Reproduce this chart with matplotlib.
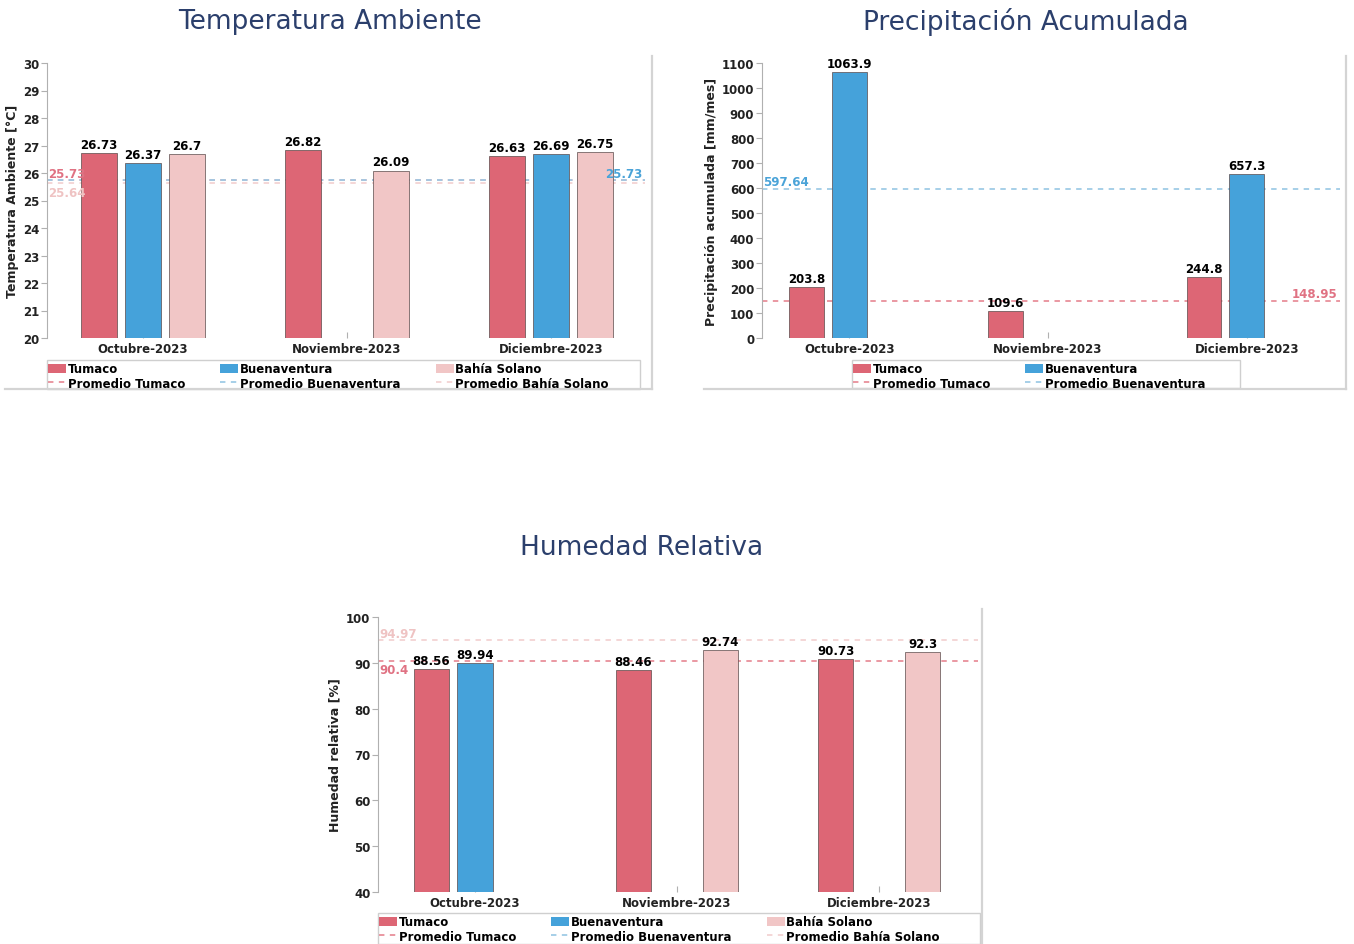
import numpy as np
import matplotlib
matplotlib.use("Agg")
import matplotlib.pyplot as plt
from matplotlib.patches import Patch, Rectangle
from matplotlib.lines import Line2D

#
# Monthly data, Pacific stations
#
months = ["Octubre-2023", "Noviembre-2023", "Diciembre-2023"]
stations = ["Tumaco", "Buenaventura", "Bahía Solano"]

temp_tumaco = [26.73, 26.82, 26.63]
temp_buenaventura = [26.37, np.nan, 26.69]
temp_bahia = [26.7, 26.09, 26.75]
temp_avg = [25.73, 25.73, 25.64]          # Tumaco, Buenaventura, Bahia Solano

prec_tumaco = [203.8, 109.6, 244.8]
prec_buenaventura = [1063.9, np.nan, 657.3]
prec_bahia = [np.nan, np.nan, np.nan]
prec_avg = [148.95, 597.64, np.nan]

hum_tumaco = [88.56, 88.46, 90.73]
hum_buenaventura = [89.94, np.nan, np.nan]
hum_bahia = [np.nan, 92.74, 92.3]
hum_avg = [90.4, np.nan, 94.97]

#
# Styles
#
bar_colors = ["#dd6675", "#45a2da", "#f1c6c6"]
avg_colors = ["#e8909b", "#9fcbe6", "#f3d3d3"]
avg_text_colors = ["#e07283", "#4aa3d8", "#efc3c3"]
title_color = "#2b3f6c"

W, H = 1354, 945
plt.rcParams['font.family'] = ['DejaVu Sans']
fig = plt.figure(figsize=(W / 100, H / 100), dpi=100)


def fx(x):
    return x / W


def fy(y):
    return 1 - y / H


def rect(x0, y0, x1, y1):
    return [fx(x0), fy(y1), fx(x1) - fx(x0), fy(y0) - fy(y1)]


def fig_line(xs, ys):
    fig.add_artist(Line2D([fx(x) for x in xs], [fy(y) for y in ys],
                          color="#d4d4d4", lw=1.6, transform=fig.transFigure))


def draw_panel(box, xlim, ylim, yticks, ylabel, series, avgs, avg_pos, nseries):
    ax = fig.add_axes(rect(*box))
    x = np.arange(len(months))
    off = 0.215
    width = 0.175
    for i in range(3):
        vals = np.array(series[i], dtype=float)
        ax.bar(x + (i - 1) * off, vals, width,
               color=bar_colors[i], edgecolor="#5a4a4a", linewidth=0.5, zorder=2)
        for xi, v in zip(x, vals):
            if np.isnan(v):
                continue
            ax.annotate(f"{v:g}", (xi + (i - 1) * off, v), xytext=(0, 1.5),
                        textcoords="offset points", ha="center", va="bottom",
                        fontsize=8.5, fontweight="bold", color="black", zorder=4)
    # reference averages
    for i in range(nseries):
        a = avgs[i]
        if np.isnan(a):
            continue
        ax.axhline(a, color=avg_colors[i], ls=(0, (3, 3)), lw=1.3, zorder=1)
        side, dy = avg_pos[i]
        if side == "left":
            ax.annotate(f"{a:g}", (0, a), xycoords=("axes fraction", "data"),
                        xytext=(1, dy), textcoords="offset points", ha="left",
                        va="center", fontsize=8.5, fontweight="bold",
                        color=avg_text_colors[i], zorder=3)
        else:
            ax.annotate(f"{a:g}", (1, a), xycoords=("axes fraction", "data"),
                        xytext=(-2, dy), textcoords="offset points", ha="right",
                        va="center", fontsize=8.5, fontweight="bold",
                        color=avg_text_colors[i], zorder=3)
    ax.set_xlim(*xlim)
    ax.set_ylim(*ylim)
    ax.set_yticks(yticks)
    ax.set_xticks(x)
    ax.set_xticklabels(months)
    for s in ["top", "right", "bottom"]:
        ax.spines[s].set_visible(False)
    ax.spines["left"].set_color("#b0b0b0")
    ax.tick_params(axis="y", direction="out", length=4, color="#b0b0b0",
                   labelsize=8.5, labelcolor="#222222", pad=1.5)
    ax.tick_params(axis="x", direction="in", length=4, color="#b0b0b0",
                   labelsize=8.5, labelcolor="#222222", pad=3)
    for lab in ax.get_xticklabels() + ax.get_yticklabels():
        lab.set_fontweight("bold")
    ax.set_ylabel(ylabel, fontsize=9, fontweight="bold", color="#222222", labelpad=3)
    return ax


def draw_legend(x0, y0, x1, y1, nseries, colsp):
    handles, labels = [], []
    for i in range(nseries):
        handles.append(Patch(facecolor=bar_colors[i], edgecolor="none"))
        labels.append(stations[i])
        handles.append(Line2D([], [], color=avg_colors[i], ls=(0, (3, 3)), lw=1.3))
        labels.append("Promedio " + stations[i])
    fig.legend(handles, labels, loc="upper left",
               bbox_to_anchor=(fx(x0), fy(y0 + 1)), ncol=nseries, frameon=False,
               prop={"size": 8.5, "weight": "bold"}, handlelength=1.5,
               handleheight=0.8, handletextpad=0.15, columnspacing=colsp,
               labelspacing=0.12, borderpad=0.1, borderaxespad=0)
    fig.add_artist(Rectangle((fx(x0), fy(y1)), fx(x1) - fx(x0), fy(y0) - fy(y1),
                             transform=fig.transFigure, fill=False,
                             edgecolor="#cfcfcf", lw=1.0))


# Temperatura
draw_panel((47, 64, 645, 339), (-0.47, 2.46), (20, 30), range(20, 31),
           "Temperatura Ambiente [°C]",
           [temp_tumaco, temp_buenaventura, temp_bahia], temp_avg,
           [("left", 5), ("right", 5), ("left", -7)], 3)
draw_legend(47, 361, 640, 390, 3, 3.0)
fig_line([652, 652], [57, 390])
fig_line([5, 652], [390, 390])
fig.text(fx(330), fy(22), "Temperatura Ambiente", ha="center", va="center",
         fontsize=19, color=title_color)

# Precipitacion
draw_panel((762, 64, 1340, 339), (-0.44, 2.47), (0, 1100), range(0, 1101, 100),
           "Precipitación acumulada [mm/mes]",
           [prec_tumaco, prec_buenaventura, prec_bahia], prec_avg,
           [("right", 5), ("left", 5), ("left", 5)], 2)
draw_legend(852, 361, 1240, 389, 2, 3.0)
fig_line([1346, 1346], [57, 390])
fig_line([704, 1346], [390, 390])
fig.text(fx(1026), fy(22), "Precipitación Acumulada", ha="center", va="center",
         fontsize=19, color=title_color)

# Humedad
draw_panel((378, 618, 978, 893), (-0.48, 2.49), (40, 100), range(40, 101, 10),
           "Humedad relativa [%]",
           [hum_tumaco, hum_buenaventura, hum_bahia], hum_avg,
           [("left", -6), ("left", 5), ("left", 5)], 3)
draw_legend(378, 914, 980, 945, 3, 3.0)
fig_line([982, 982], [610, 945])
fig.text(fx(642), fy(548), "Humedad Relativa", ha="center", va="center",
         fontsize=19, color=title_color)

fig.savefig("out.png", dpi=100, facecolor="white")
